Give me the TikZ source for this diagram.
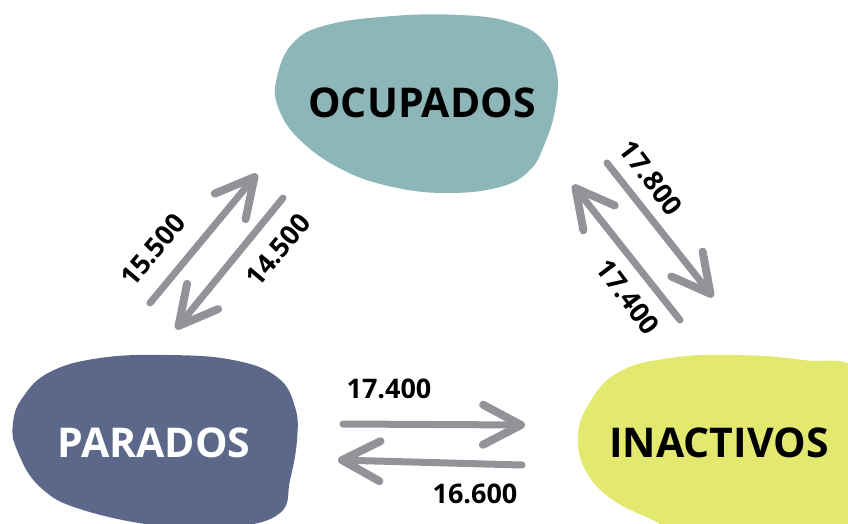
\documentclass[tikz,border=0pt]{standalone}
\usepackage{fontspec}
\setmainfont{Open Sans}
\usepackage{xcolor}
\usetikzlibrary{arrows.meta}
\definecolor{ocuteal}{HTML}{8DB6B9}
\definecolor{parblue}{HTML}{5C6889}
\definecolor{inayellow}{HTML}{E3E86E}
\definecolor{flowgray}{HTML}{929398}

\begin{document}
\begin{tikzpicture}[x=1pt, y=-1pt,
  lbl/.style={font=\fontsize{41}{45}\selectfont\bfseries, inner sep=0pt},
  num/.style={font=\fontsize{27}{30}\selectfont\bfseries, inner sep=0pt},
  flow/.style={draw=flowgray, line width=7pt, line cap=round,
    -{Straight Barb[round, length=38pt, width=40pt, line width=8pt]}}]
  \useasboundingbox (0,0) rectangle (848,524);
  \clip (0,0) rectangle (848,524);
  % blobs
  \fill[ocuteal] plot[smooth cycle, tension=0.7] coordinates {
    (393,16) (460,15) (510,22) (543,40) (557,73) (555,110) (545,143) (530,170)
    (500,187) (447,193) (393,187) (343,170) (300,140) (278,107) (277,77) (293,43) (327,25)};
  \fill[parblue] plot[smooth cycle, tension=0.7] coordinates {
    (100,358) (167,355) (233,360) (277,377) (295,407) (297,440) (290,480) (280,513)
    (233,527) (167,527) (83,510) (40,487) (17,450) (13,423) (23,397) (50,372)};
  \fill[inayellow] plot[smooth cycle, tension=0.7] coordinates {
    (670,358) (737,355) (803,360) (860,372) (880,450) (860,540) (700,540) (653,520)
    (613,500) (587,473) (578,440) (587,407) (617,373)};
  % states
  \node[lbl] (ocu) at (422,103) {OCUPADOS};
  \node[lbl, text=white] (par) at (154,443) {PARADOS};
  \node[lbl] (ina) at (719,443) {INACTIVOS};
  % flow ends
  \coordinate (pu0) at (150,303); \coordinate (pu1) at (257,174);
  \coordinate (pd0) at (283,198); \coordinate (pd1) at (176,329);
  \coordinate (id0) at (607,163); \coordinate (id1) at (713,297);
  \coordinate (iu0) at (680,320); \coordinate (iu1) at (573,185);
  \coordinate (pi0) at (343,424); \coordinate (pi1) at (525,425);
  \coordinate (ip0) at (522,465); \coordinate (ip1) at (338,460);
  \draw[flow] (pu0) -- (pu1);
  \draw[flow] (pd0) -- (pd1);
  \draw[flow] (id0) -- (id1);
  \draw[flow] (iu0) -- (iu1);
  \draw[flow] (pi0) -- (pi1);
  \draw[flow] (ip0) -- (ip1);
  % numbers
  \node[num, rotate=50] (n1) at (153,250) {15.500};
  \node[num, rotate=50] (n2) at (278,250) {14.500};
  \node[num, rotate=-53] (n3) at (651,178) {17.800};
  \node[num, rotate=-53] (n4) at (628,297) {17.400};
  \node[num] (n5) at (389,389) {17.400};
  \node[num] (n6) at (475,494) {16.600};
\end{tikzpicture}
\end{document}
